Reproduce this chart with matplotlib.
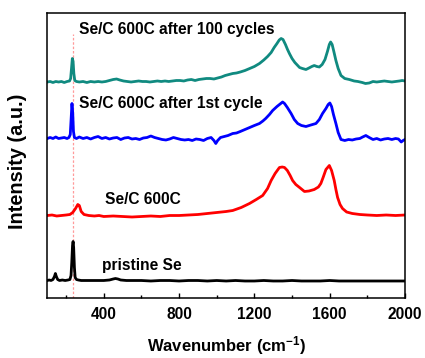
import matplotlib
matplotlib.use("Agg")
import matplotlib.pyplot as plt
from matplotlib.ticker import MultipleLocator

plt.rcParams['font.family'] = ['Liberation Sans', 'DejaVu Sans']
plt.rcParams['font.weight'] = 'bold'
plt.rcParams['mathtext.fontset'] = 'custom'
plt.rcParams['mathtext.rm'] = 'Liberation Sans:bold'
plt.rcParams['mathtext.bf'] = 'Liberation Sans:bold'
plt.rcParams['mathtext.default'] = 'bf'

# ---------------- data (arbitrary intensity units, offset spectra) ----------------
pristine_x = [100, 110, 120, 130, 138, 143, 148, 155, 165, 180, 195, 210, 220, 226, 230, 234, 237,
              240, 244, 248, 255, 265, 280, 300, 330, 360, 400, 430, 450, 462, 475, 490, 520, 560,
              600, 650, 700, 750, 800, 850, 900, 950, 1000, 1050, 1100, 1150, 1200, 1250, 1300,
              1350, 1400, 1450, 1500, 1550, 1600, 1650, 1700, 1750, 1800, 1850, 1900, 1950, 2000]
pristine_y = [17, 17.5, 17, 18, 21, 24, 21, 18, 17, 17.5, 17, 17.5, 18, 22, 35, 52, 56,
              50, 30, 20, 18, 17.5, 17, 17, 17, 17, 17, 17.5, 18.5, 19, 18.5, 17.5, 17, 17,
              17, 16.5, 17, 17, 16.5, 17, 17, 16.5, 17, 16.5, 17, 16.5, 16.5, 17, 16.5,
              16.5, 17, 16.5, 16.5, 16.5, 17, 16.5, 16.5, 16.5, 16.5, 16.5, 16.5, 16.5, 16.5]

sec_x = [100, 125, 150, 175, 200, 220, 235, 250, 262, 270, 280, 295, 320, 350, 375, 400, 450,
         500, 550, 600, 650, 700, 750, 800, 850, 900, 950, 1000, 1050, 1085, 1130, 1174, 1210,
         1244, 1270, 1289, 1310, 1333, 1348, 1360, 1375, 1390, 1403, 1420, 1440, 1466, 1490,
         1518, 1540, 1553, 1565, 1580, 1598, 1610, 1624, 1633, 1642, 1655, 1668, 1690, 1720,
         1760, 1800, 1850, 1900, 1950, 2000]
sec_y = [82, 82.5, 81.5, 82, 82.5, 83, 85, 89, 93, 92, 86, 83, 82, 81.5, 82, 81, 81.5,
         81, 80.5, 81, 81.5, 81, 82, 82, 82.5, 83, 84, 85, 86, 87, 90, 94, 98,
         102, 109, 117, 124, 130, 130.5, 130, 127, 122, 117, 113, 110, 106, 106.5,
         108, 110.5, 114, 120, 128, 132, 127, 117, 108, 100, 93, 89, 85.5, 84,
         83, 82.5, 82, 82.5, 82, 82.5]

first_x = [100, 115, 130, 145, 160, 175, 190, 205, 215, 222, 227, 231, 235, 239, 244, 255, 270,
           290, 310, 330, 350, 370, 390, 410, 430, 450, 470, 490, 510, 530, 550, 570, 590, 610,
           630, 650, 670, 690, 710, 730, 750, 770, 790, 810, 830, 850, 870, 890, 910, 930, 950,
           970, 985, 995, 1005, 1020, 1040, 1060, 1085, 1105, 1125, 1150, 1175, 1200, 1227,
           1245, 1260, 1280, 1297, 1320, 1340, 1350, 1360, 1375, 1395, 1412, 1430, 1450, 1474,
           1500, 1527, 1545, 1562, 1580, 1592, 1601, 1610, 1620, 1633, 1645, 1660, 1680, 1700,
           1720, 1740, 1760, 1775, 1792, 1810, 1830, 1850, 1870, 1890, 1910, 1930, 1950, 1965,
           1980, 1990, 2000]
first_y = [159, 160, 159, 160.5, 159, 159.5, 160, 159, 160, 163, 180, 194, 185, 166, 160, 159, 160.5,
           159, 160, 158.5, 160, 161, 159, 160, 158.5, 159.5, 160, 158, 159.5, 160, 158.5, 159, 158, 159.5,
           160, 161.5, 160, 159, 158, 157.5, 158.5, 160, 159, 158, 157.5, 158, 157, 158.5, 158, 157, 159,
           160, 157, 154, 157, 160, 161, 162, 164, 164.5, 166, 168, 170, 172, 174,
           176.5, 179, 183, 187, 191, 194, 195.5, 194, 190, 184, 178, 174, 172, 171,
           172.5, 174, 178, 184, 189, 193, 194.5, 191, 183, 174, 165, 158, 157, 158,
           157.5, 158.5, 159, 160.5, 162, 160, 158, 159, 157.5, 158.5, 159, 158, 159, 158.5,
           155.5, 157, 158]

hundred_x = [100, 115, 130, 145, 160, 175, 190, 205, 218, 224, 229, 233, 237, 241, 246, 255, 270,
             290, 310, 330, 350, 370, 390, 410, 430, 450, 468, 485, 505, 525, 545, 565, 585, 605,
             625, 645, 665, 685, 705, 725, 745, 765, 785, 805, 825, 845, 865, 885, 905, 925, 945,
             965, 985, 1005, 1025, 1045, 1065, 1085, 1105, 1125, 1150, 1175, 1200, 1227, 1250,
             1270, 1289, 1305, 1320, 1332, 1342, 1352, 1365, 1376, 1386, 1400, 1415, 1430, 1440,
             1455, 1474, 1490, 1505, 1518, 1532, 1545, 1560, 1575, 1588, 1598, 1605, 1613, 1622,
             1633, 1645, 1660, 1680, 1704, 1730, 1750, 1773, 1790, 1810, 1830, 1850, 1870, 1890,
             1910, 1930, 1950, 1970, 1985, 2000]
hundred_y = [215.5, 216, 215, 216, 215.5, 216, 215, 216, 216.5, 219, 230, 239, 236, 224, 217, 216, 215.5,
             216, 215, 216, 215.5, 216, 215.5, 216, 217, 218, 218.5, 217.5, 216.5, 216, 215.5, 216, 216.5, 216,
             216, 215.5, 216, 216.5, 216, 216.5, 216, 216.5, 217, 217, 216.5, 217.5, 218, 217, 218, 218.5, 219,
             219, 218.5, 219.5, 220.5, 222, 223, 224, 224.5, 225.5, 227, 229, 231, 234, 237.5,
             241, 245, 250, 254, 257.5, 259, 258, 253, 248, 244, 239, 235, 232, 230,
             229, 228, 229.5, 231, 232, 231, 230.5, 233, 238, 246, 253, 255.5, 253, 246,
             237, 229, 222, 219, 218, 216.5, 216, 215, 214, 214.5, 216, 215.5, 216, 216.5,
             216, 215.5, 216, 216.5, 217, 216.5]

labels = ["pristine Se", "Se/C 600C", "Se/C 600C after 1st cycle", "Se/C 600C after 100 cycles"]
colors = ["#000000", "#ff0000", "#0000ff", "#108a80"]
ref_line_x = 235
ref_line_top = 264

xticks = [400, 800, 1200, 1600, 2000]

# ---------------- figure ----------------
fig = plt.figure(figsize=(4.25, 3.58), dpi=100)
ax = fig.add_axes([47.3 / 425, 1 - 297.5 / 358, (405 - 47.3) / 425, (297.5 - 12.7) / 358])

ax.vlines(ref_line_x, 0, ref_line_top, colors="#ff9a9a", linestyles=(0, (2, 1.5)), linewidth=0.9, zorder=1)

series = [(pristine_x, pristine_y), (sec_x, sec_y), (first_x, first_y), (hundred_x, hundred_y)]
for (xs, ys), c in zip(series, colors):
    ax.plot(xs, ys, color=c, linewidth=2.0, zorder=2)

fs = 11.2
ax.text(391, 32, labels[0], fontsize=fs, fontweight='bold', ha='left', va='center')
ax.text(406, 98, labels[1], fontsize=fs, fontweight='bold', ha='left', va='center')
ax.text(270, 194, labels[2], fontsize=fs, fontweight='bold', ha='left', va='center')
ax.text(266, 268, labels[3], fontsize=fs, fontweight='bold', ha='left', va='center')

ax.set_xlim(100, 2000)
ax.set_ylim(0, 284.8)
ax.set_xticks(xticks)
ax.xaxis.set_minor_locator(MultipleLocator(200))
ax.set_yticks([])
ax.tick_params(axis='x', which='major', direction='in', length=3.8, width=1.0, labelsize=11.2, pad=6.5)
ax.tick_params(axis='x', which='minor', direction='in', length=2.4, width=1.0)
ax.tick_params(top=False, which='both')
for s in ax.spines.values():
    s.set_linewidth(1.1)

ax.set_xlabel(r'Wavenumber (cm$^{-1}$)', fontsize=12, fontweight='bold')
ax.xaxis.set_label_coords(0.5, -0.127)
ax.set_ylabel('Intensity (a.u.)', fontsize=14.3, fontweight='bold', va='center')
ax.yaxis.set_label_coords(-0.0847, 0.479)

fig.savefig("out.png", dpi=100)
